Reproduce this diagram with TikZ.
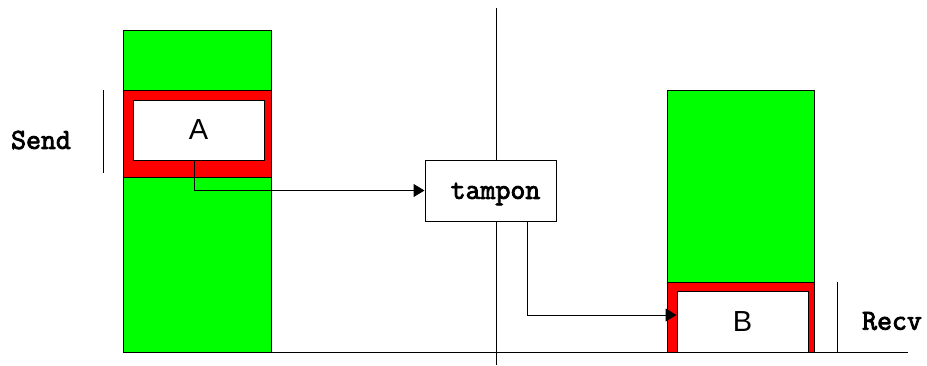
\documentclass[tikz,border=0pt]{standalone}
\usepackage{fontspec}
\setmainfont{Liberation Sans}
\setmonofont{Latin Modern Mono}[AutoFakeBold=3]
\usetikzlibrary{arrows.meta}
\definecolor{grn}{RGB}{0,255,0}
\definecolor{rd}{RGB}{255,0,0}
\tikzset{
  ln/.style={line width=1pt, draw=black},
  col/.style={ln, fill=grn},
  redbox/.style={ln, fill=rd},
  whitebox/.style={ln, fill=white, rectangle, inner sep=0pt},
  arr/.style={ln, -{Triangle[length=11pt,width=13pt]}},
  monolabel/.style={font=\ttfamily\bfseries\fontsize{29}{31}\selectfont, inner sep=0pt},
  sanslabel/.style={font=\fontsize{29}{31}\selectfont, inner sep=0pt}
}
\begin{document}
\begin{tikzpicture}[x=1pt,y=-1pt]
\useasboundingbox (0,0) rectangle (927,365);
% axis lines
\draw[ln] (496,8) -- (496,365);
\draw[ln] (234,352) -- (908,352);
% left column
\draw[col] (123,30) rectangle (271,352);
\draw[redbox] (123,90) rectangle (271,177);
\node[whitebox, minimum width=131pt, minimum height=60pt] (A) at (198.5,130) {};
\node[sanslabel] (Alab) at (198.5,130) {A};
% right column
\draw[col] (667,90) rectangle (814,352);
\draw[redbox] (667,282) rectangle (814,352);
\node[whitebox, minimum width=131pt, minimum height=61pt] (B) at (742.5,321.5) {};
\node[sanslabel] (Blab) at (742.5,321.5) {B};
% tampon
\node[whitebox, minimum width=131pt, minimum height=61pt] (tampon) at (490.5,190.5) {};
\node[monolabel] (tlab) at (495.5,194) {tampon};
% labels
\node[monolabel] (send) at (41,140) {Send};
\draw[ln] (103,90) -- (103,173);
\node[monolabel] (recv) at (892,321) {Recv};
\draw[ln] (837,282) -- (837,352);
% connectors
\draw[arr] ([xshift=-4.5pt]A.south) |- (tampon.west);
\draw[arr] ([xshift=36.5pt]tampon.south) |- ([yshift=6.5pt]B.west);
\end{tikzpicture}
\end{document}
